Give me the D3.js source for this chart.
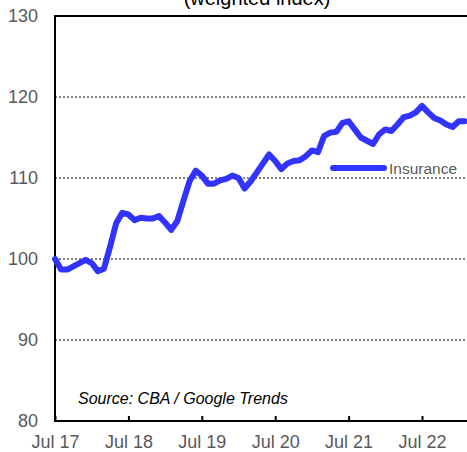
<!DOCTYPE html>
<html>
<head>
<meta charset="utf-8">
<script src="https://cdn.jsdelivr.net/npm/d3@7"></script>
<style>
  body { margin: 0; background: #fff; }
  svg { display: block; font-family: "Liberation Sans", Arial, sans-serif; }
</style>
</head>
<body>
<svg id="chart" width="467" height="452"></svg>
<script>
// monthly index, Jul 2017 onwards
const insurance = [
  100.0, 98.7, 98.7, 99.1, 99.5, 99.9, 99.5, 98.5, 98.8, 101.5,
  104.4, 105.7, 105.5, 104.8, 105.1, 105.0, 105.0, 105.3, 104.5, 103.6,
  104.7, 107.2, 109.6, 110.9, 110.3, 109.3, 109.3, 109.7, 109.9, 110.3,
  110.0, 108.7, 109.6, 110.7, 111.8, 112.9, 112.1, 111.1, 111.8, 112.1,
  112.2, 112.7, 113.4, 113.2, 115.2, 115.6, 115.7, 116.8, 117.0, 116.0,
  115.0, 114.6, 114.2, 115.4, 116.0, 115.8, 116.6, 117.5, 117.7, 118.1,
  118.9, 118.1, 117.4, 117.1, 116.6, 116.3, 117.0, 117.0
];
const xTickPos = [0, 12, 24, 36, 48, 60];
const xTickLabels = ["Jul 17", "Jul 18", "Jul 19", "Jul 20", "Jul 21", "Jul 22"];
const yTicks = [80, 90, 100, 110, 120, 130];
const gridTicks = [90, 100, 110, 120];

const plotLeft = 55, plotTop = 16, plotBottom = 421, plotRight = 470;
const blue = "#3333ff", grey = "#595959";

let svg = d3.select("#chart");

let x = d3.scaleLinear().domain([0, 60]).range([plotLeft, 422]);
let y = d3.scaleLinear().domain([80, 130]).range([plotBottom, plotTop]);

// title (mostly cut off at the top, as in the source)
svg.append("text")
  .attr("x", 257).attr("y", 5)
  .attr("text-anchor", "middle")
  .attr("font-size", 20)
  .attr("fill", "#000")
  .text("(weighted index)");

// dotted gridlines
svg.append("g")
  .selectAll("line")
  .data(gridTicks)
  .enter()
  .append("line")
  .attr("x1", plotLeft).attr("x2", plotRight)
  .attr("y1", d => y(d)).attr("y2", d => y(d))
  .attr("stroke", "#000")
  .attr("stroke-width", 1)
  .attr("stroke-dasharray", "2,2");

// y axis labels
svg.append("g")
  .selectAll("text")
  .data(yTicks)
  .enter()
  .append("text")
  .attr("x", 38)
  .attr("y", d => y(d))
  .attr("dy", "0.35em")
  .attr("text-anchor", "end")
  .attr("font-size", 18)
  .attr("fill", grey)
  .text(d => d);

// x axis ticks and labels
let xAxis = d3.axisBottom(x)
  .tickValues(xTickPos)
  .tickSize(-5)
  .tickPadding(14)
  .tickFormat((d, i) => xTickLabels[i]);

let gx = svg.append("g")
  .attr("transform", "translate(0," + plotBottom + ")")
  .call(xAxis);
gx.select(".domain").remove();
gx.selectAll("line").attr("stroke", "#000").attr("stroke-width", 2);
gx.selectAll("text")
  .attr("font-size", 18)
  .attr("font-family", "Liberation Sans, Arial, sans-serif")
  .attr("fill", grey);

// frame: left, bottom, top
svg.append("line").attr("x1", plotLeft).attr("x2", plotLeft).attr("y1", plotTop - 1).attr("y2", plotBottom + 1)
  .attr("stroke", "#000").attr("stroke-width", 2);
svg.append("line").attr("x1", plotLeft - 1).attr("x2", plotRight).attr("y1", plotBottom).attr("y2", plotBottom)
  .attr("stroke", "#000").attr("stroke-width", 2);
svg.append("line").attr("x1", plotLeft - 1).attr("x2", plotRight).attr("y1", plotTop).attr("y2", plotTop)
  .attr("stroke", "#000").attr("stroke-width", 2);

// series
let line = d3.line()
  .x((d, i) => x(i))
  .y(d => y(d));

svg.append("path")
  .datum(insurance)
  .attr("d", line)
  .attr("fill", "none")
  .attr("stroke", blue)
  .attr("stroke-width", 6)
  .attr("stroke-linejoin", "round")
  .attr("stroke-linecap", "round");

// legend
svg.append("line")
  .attr("x1", 333).attr("x2", 384)
  .attr("y1", 168).attr("y2", 168)
  .attr("stroke", blue)
  .attr("stroke-width", 6)
  .attr("stroke-linecap", "round");
svg.append("text")
  .attr("x", 389).attr("y", 169)
  .attr("dy", "0.35em")
  .attr("font-size", 15.5)
  .attr("fill", grey)
  .text("Insurance");

// source
svg.append("text")
  .attr("x", 78).attr("y", 404)
  .attr("font-size", 16)
  .attr("font-style", "italic")
  .attr("fill", "#000")
  .text("Source: CBA / Google Trends");
</script>
</body>
</html>
